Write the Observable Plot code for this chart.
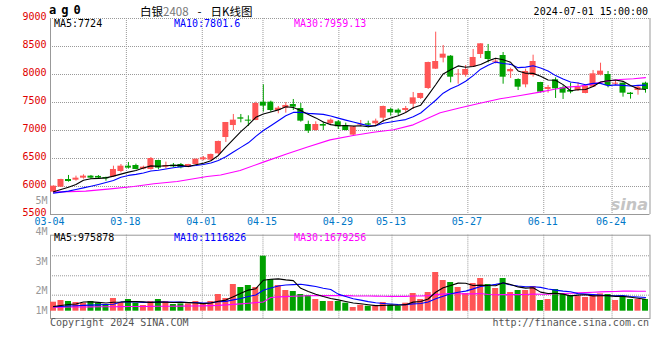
<!DOCTYPE html>
<html><head><meta charset="utf-8">
<script src="https://cdn.jsdelivr.net/npm/d3@7"></script>
<script src="https://cdn.jsdelivr.net/npm/@observablehq/plot@0.6"></script>
<style>
body{margin:0;background:#fff;}
#chart{position:relative;width:660px;height:360px;overflow:hidden;background:#fff;font-family:"DejaVu Sans Mono",monospace;}
#chart svg{position:absolute;left:0;}
.t{position:absolute;white-space:nowrap;font-size:10px;line-height:10px;font-family:"DejaVu Sans Mono",monospace;}
</style></head><body><div id="chart"></div>
<script>
// ---- data ----
const symbol = "ag0";
const titleParts = ["白银", "2408", "-", "日K线图"];
const stamp = "2024-07-01 15:00:00";
const maLabels = ["MA5:7724", "MA10:7801.6", "MA30:7959.13"];
const volMaLabels = ["MA5:975878", "MA10:1116826", "MA30:1679256"];
const footer = ["Copyright 2024 SINA.COM", "http://finance.sina.com.cn"];

const dateTickIdx = [0, 10, 20, 28, 38, 45, 55, 65, 74];
const dateLabels = ["03-04","03-18","04-01","04-15","04-29","05-13","05-27","06-11","06-24"];
const priceTicks = [5500, 6000, 6500, 7000, 7500, 8000, 8500, 9000];
const volTickLabels = ["5M", "4M", "3M", "2M", "1M"];
const volTickAt = [9020e3, 6535e3, 4075e3, 1640e3, 0];
const volGridAt = [1312e3, 2903e3, 4543e3];

const opens = [5899,5988,6125,6113,6149,6185,6180,6161,6173,6268,
6363,6375,6310,6304,6464,6345,6381,6393,6339,6393,
6476,6470,6584,6875,7089,7226,7185,7179,7506,7506,
7357,7399,7464,7393,7107,7000,7107,7125,7155,7089,
6917,7095,7119,7119,7220,7375,7363,7357,7470,7572,
7750,8095,8292,8327,7994,7988,8131,8357,8411,8220,
8339,8048,7911,7815,7982,7857,7732,7905,7762,7714,
7714,7661,7774,7988,8000,7827,7845,7667,7714,7845];
const closes = [6006,6125,6089,6149,6185,6149,6150,6137,6304,6363,
6328,6304,6345,6500,6328,6375,6351,6334,6393,6488,
6512,6572,6804,7143,7185,7203,7167,7482,7435,7357,
7399,7447,7417,7167,6988,7107,7078,7185,7066,7000,
7066,7107,7095,7167,7429,7316,7310,7393,7583,7661,
8214,8232,8363,7952,8006,8089,8304,8548,8268,8238,
7952,8089,7774,8054,8232,7685,7768,7744,7667,7685,
7774,7792,8012,8060,7804,7845,7667,7643,7774,7732];
const highs = [6010,6130,6197,6185,6209,6197,6195,6167,6363,6393,
6429,6399,6363,6518,6470,6435,6411,6411,6395,6490,
6536,6578,6810,7143,7286,7286,7262,7506,7816,7524,
7429,7500,7554,7482,7167,7155,7149,7208,7179,7131,
7072,7179,7167,7203,7435,7399,7387,7429,7679,7665,
8220,8756,8518,8339,8089,8161,8446,8550,8536,8280,
8393,8113,7923,8095,8345,7860,7804,7941,7798,7845,
7851,7795,8072,8202,8054,7875,7850,7679,7792,7863];
const lows = [5895,5985,6078,6095,6131,6131,6132,6095,6161,6244,
6310,6298,6298,6292,6298,6316,6339,6316,6335,6390,
6458,6453,6560,6786,7000,7137,7072,7175,7328,7322,
7298,7310,7357,7149,6947,6988,7000,7095,7018,6994,
6911,7066,7048,7072,7143,7256,7262,7316,7375,7554,
7732,8090,8208,7851,7827,7952,8125,8286,8208,8190,
7827,7929,7714,7762,7952,7667,7667,7572,7554,7655,
7696,7655,7768,7976,7762,7804,7595,7560,7631,7667];
const volumes = [738,877,795,713,656,795,656,549,1041,713,
959,656,467,795,959,795,549,599,599,795,
549,795,1369,1041,2189,1943,2107,1943,4510,2599,
2107,1697,1615,1369,1287,959,795,795,795,656,
303,492,410,410,713,492,410,656,1451,959,
1533,3173,2517,2353,1943,1451,2271,2681,2189,1861,
2681,1533,1697,1697,2025,877,959,1779,1369,1287,
1205,1123,1287,1419,1369,877,1123,959,959,959].map(v => v * 1000);

// MA30 of price (candle index, value)
const ma30Idx = [0, 4.3, 7.6, 10.7, 13.4, 16.5, 18.7, 20.5, 22.3, 24.9, 28, 31.2, 33.8, 36.9, 40, 42.7, 45.4, 48, 49.8, 51.6, 54.3, 56.9, 59.6, 62.3, 64.9, 66.7, 68.5, 70.3, 72, 73.8, 75.6, 77.4, 79];
const ma30Val = [5899, 5917, 5958, 6000, 6048, 6089, 6137, 6179, 6205, 6286, 6435, 6583, 6702, 6833, 6911, 6970, 7012, 7101, 7208, 7318, 7405, 7488, 7566, 7625, 7685, 7732, 7774, 7792, 7833, 7881, 7911, 7925, 7945];
// moving-average values before a full window exists
const ma5Head = [5905, 5947, 5988, 6036];
const ma10Head = [5881, 5900, 5917, 5945, 5976, 6005, 6036, 6070, 6107];
const vma5Head = [385e3, 467e3, 549e3, 590e3];
const vma10Head = [360e3, 390e3, 420e3, 450e3, 480e3, 500e3, 520e3, 545e3, 570e3];
const vma30Head = [330e3,335e3,340e3,345e3,350e3,355e3,360e3,365e3,370e3,375e3,380e3,385e3,390e3,395e3,400e3,405e3,410e3,415e3,420e3,430e3,440e3,455e3,480e3,520e3,560e3,600e3,650e3,700e3,760e3];

// ---- build ----
const N = closes.length;
const UP = "#ff5555", DOWN = "#00a000";
const rows = d3.range(N).map(i => ({i, o: opens[i], h: highs[i], l: lows[i], c: closes[i], v: volumes[i], col: closes[i] >= opens[i] ? UP : DOWN}));
function movingAvg(vals, n, head) {
  return vals.map((v, i) => ({i, y: i >= n - 1 ? d3.mean(vals.slice(i - n + 1, i + 1)) : head[i]}));
}
const ma5 = movingAvg(closes, 5, ma5Head), ma10 = movingAvg(closes, 10, ma10Head);
const ma30 = ma30Idx.map((i, k) => ({i, y: ma30Val[k]}));
const vma5 = movingAvg(volumes, 5, vma5Head), vma10 = movingAvg(volumes, 10, vma10Head), vma30 = movingAvg(volumes, 30, vma30Head);

const W = 660;
const xDomain = [0, N];
const gridX = dateTickIdx.slice(1).map(k => k * N / (N - 1));
const labelX = dateTickIdx.map(k => k * N / (N - 1));
const GRID = {stroke: "#999", strokeDasharray: "1,1"};
const FRAME = "#999";
const cx = d => d.i + 0.4;

const main = Plot.plot({
  width: W, height: 232,
  marginLeft: 50, marginRight: 10.5, marginTop: 18, marginBottom: 18,
  x: {domain: xDomain, axis: null},
  y: {domain: [5500, 9000], axis: null},
  style: {background: "transparent", fontFamily: "DejaVu Sans Mono", fontSize: "10px", overflow: "visible"},
  marks: [
    Plot.ruleY(priceTicks.filter(v => v > 5500), GRID),
    Plot.ruleX(gridX, GRID),
    Plot.ruleX([0, N], {stroke: FRAME}),
    Plot.ruleY([5500], {stroke: FRAME}),
    Plot.text(["sina"], {frameAnchor: "bottom-right", dx: -2, dy: -5, fill: "#c4c4c4", fontSize: 16, fontStyle: "italic", fontWeight: "bold", fontFamily: "DejaVu Sans"}),
    Plot.ruleX(rows, {x: cx, y1: "l", y2: "h", stroke: "col"}),
    Plot.rectY(rows, {x1: "i", x2: d => d.i + 0.8, y1: "o", y2: "c", fill: "col"}),
    Plot.line(ma30, {x: cx, y: "y", stroke: "#ff00ff", strokeWidth: 1.1}),
    Plot.line(ma10, {x: cx, y: "y", stroke: "#0000ff", strokeWidth: 1.1}),
    Plot.line(ma5, {x: cx, y: "y", stroke: "#000", strokeWidth: 1.1}),
    Plot.text(priceTicks, {y: d => d, text: d => String(d), frameAnchor: "left", textAnchor: "end", dx: -4, dy: -2, fill: "#e00000"}),
    Plot.text(dateLabels, {x: (d, k) => labelX[k], text: d => d, frameAnchor: "bottom", lineAnchor: "top", dy: 3, dx: -1, fill: "#0078c8"})
  ]
});
main.style.top = "0px";

const vol = Plot.plot({
  width: W, height: 170,
  marginLeft: 50, marginRight: 10.5, marginTop: 44.7, marginBottom: 42,
  x: {domain: xDomain, axis: null},
  y: {domain: [-599e3, 6232e3], axis: null},
  style: {background: "transparent", fontFamily: "DejaVu Sans Mono", fontSize: "10px", overflow: "visible"},
  marks: [
    Plot.ruleY(volGridAt, GRID),
    Plot.ruleX(gridX, GRID),
    Plot.frame({stroke: FRAME}),
    Plot.rectY(rows, {x1: "i", x2: d => d.i + 0.8, y1: 0, y2: "v", fill: "col"}),
    Plot.line(vma30, {x: cx, y: "y", stroke: "#ff00ff", strokeWidth: 1.1}),
    Plot.line(vma10, {x: cx, y: "y", stroke: "#0000ff", strokeWidth: 1.1}),
    Plot.line(vma5, {x: cx, y: "y", stroke: "#000", strokeWidth: 1.1}),
    Plot.text(volTickLabels, {y: (d, k) => volTickAt[k], text: d => d, frameAnchor: "left", textAnchor: "end", dx: -3, fill: "#999"})
  ]
});
vol.style.top = "190px";

const chart = document.getElementById("chart");
chart.append(main, vol);

function addText(txt, css) {
  const el = document.createElement("div");
  el.className = "t";
  Object.assign(el.style, css);
  el.textContent = txt;
  chart.append(el);
  return el;
}
addText(symbol, {left: "49px", top: "4px", fontWeight: "bold", fontSize: "12px", lineHeight: "12px", letterSpacing: "5px"});
const title = addText("", {left: "140px", top: "5px", fontSize: "11.5px", lineHeight: "12px", fontFamily: "'Noto Sans CJK SC', sans-serif"});
title.innerHTML = `${titleParts[0]}<span style="color:#777">${titleParts[1]}</span><span style="margin:0 9px 0 9px">${titleParts[2]}</span>${titleParts[3]}`;
addText(stamp, {right: "12px", top: "7px"});
const maCols = ["#000", "#0000ff", "#ff00ff"], maLeft = [54, 174, 294];
maLabels.forEach((s, k) => addText(s, {left: maLeft[k] + "px", top: "19px", color: maCols[k]}));
volMaLabels.forEach((s, k) => addText(s, {left: maLeft[k] + "px", top: "233px", color: maCols[k]}));
addText(footer[0], {left: "50px", top: "318px", color: "#555"});
addText(footer[1], {right: "11px", top: "318px", color: "#555"});
</script></body></html>
